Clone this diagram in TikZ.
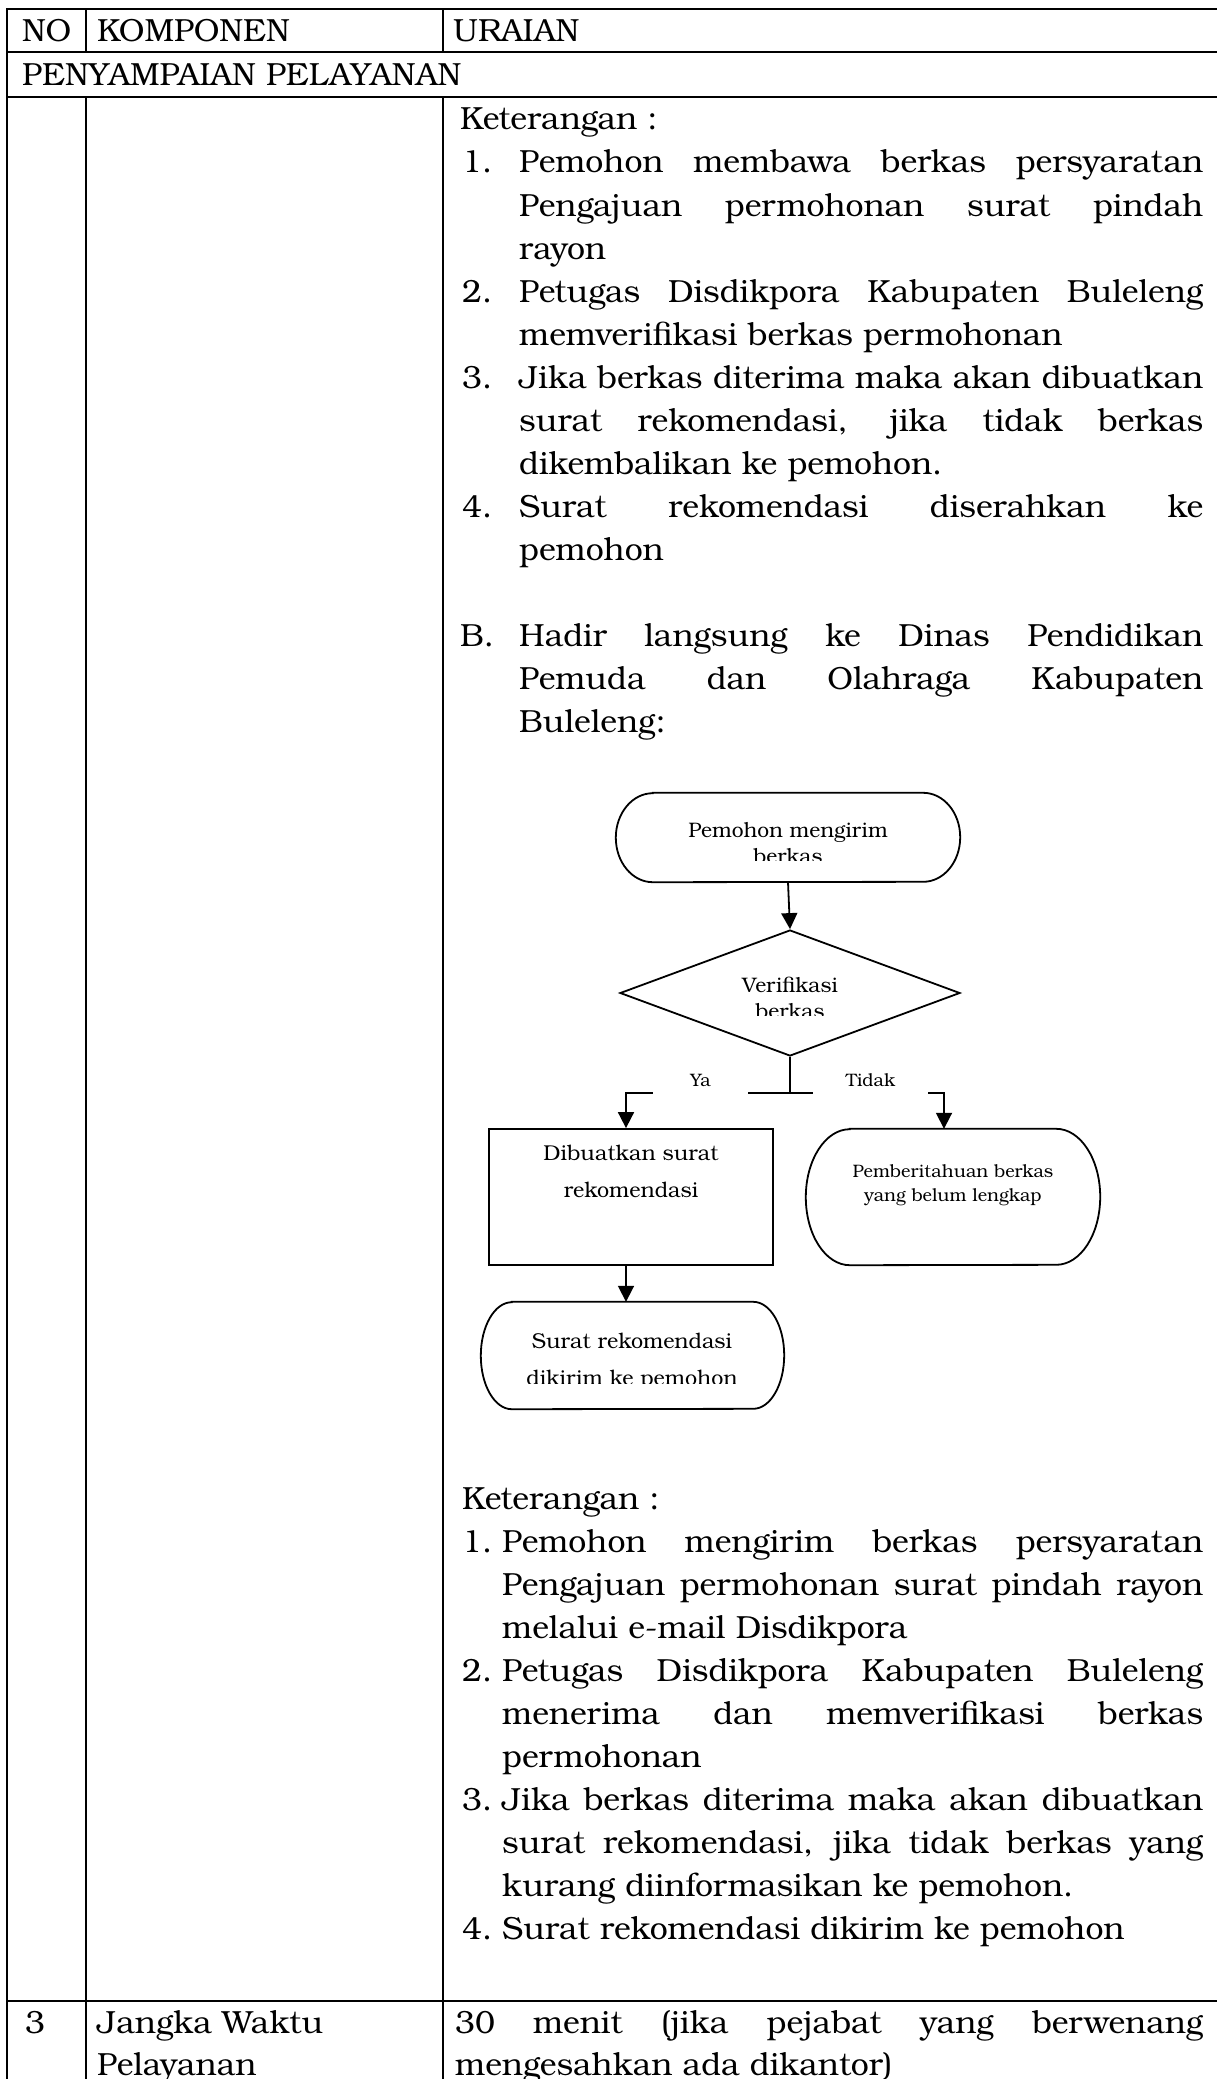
\documentclass[tikz,border=0pt]{standalone}
\usepackage{fontspec}
\setmainfont{TeX Gyre Bonum}
\usetikzlibrary{positioning,arrows.meta,shapes.geometric}

\tikzset{
   grid/.style={line width=2.5pt},
   fc/.style={line width=1.8pt},
   arr/.style={fc, -{Triangle[length=16pt,width=16pt]}},
   txt/.style={anchor=base west, inner sep=0pt, font=\fontsize{32}{43}\selectfont},
   fct/.style={anchor=base, inner sep=0pt},
   lbl/.style={anchor=base, fill=white, inner xsep=0pt, inner ysep=9pt, font=\fontsize{18}{18}\selectfont}
}

\newcommand{\capsule}[3]{%
   \path[draw, fc] ([xshift=#2pt]#1.north west) -- ([xshift=-#2pt]#1.north east)
      arc[start angle=90, end angle=-90, x radius=#2pt, y radius=#3pt]
      -- ([xshift=#2pt]#1.south west)
      arc[start angle=270, end angle=90, x radius=#2pt, y radius=#3pt] -- cycle;}

\begin{document}
\begin{tikzpicture}[x=1pt, y=-1pt]
   \useasboundingbox (0,0) rectangle (1217,2079);
   \begin{scope}
      \path[draw, grid] (1217,9) -- (7,9) -- (7,2079);
      \foreach \y in {52, 97, 2001} {
         \path[draw, grid] (7,\y) -- (1217,\y);
      }
      \foreach \x in {86, 443} {
         \path[draw, grid] (\x,9) -- (\x,52);
         \path[draw, grid] (\x,97) -- (\x,2079);
      }
      \def \Labels {
         22/42/NO,
         97/42/KOMPONEN,
         453/42/URAIAN,
         22/86/PENYAMPAIAN PELAYANAN,
         460/130/Keterangan :,
         462/173/1.,
         462/302/2.,
         462/388/3.,
         462/517/4.,
         460/646/B.,
         462/1509/Keterangan :,
         462/1552/1.,
         462/1681/2.,
         462/1810/3.,
         462/1939/4.,
         25/2033/3,
         97/2033/Jangka Waktu,
         97/2075/Pelayanan}
      \def \Lines {
         519/173/684/s/Pemohon membawa berkas persyaratan,
         519/216/684/s/Pengajuan permohonan surat pindah,
         519/259/684/l/rayon,
         519/302/684/s/Petugas Disdikpora Kabupaten Buleleng,
         519/345/684/l/memverifikasi berkas permohonan,
         519/388/684/s/Jika berkas diterima maka akan dibuatkan,
         519/431/684/s/{surat rekomendasi, jika tidak berkas},
         519/474/684/l/dikembalikan ke pemohon.,
         519/517/684/s/Surat rekomendasi diserahkan ke,
         519/560/684/l/pemohon,
         519/646/684/s/Hadir langsung ke Dinas Pendidikan,
         519/689/684/s/Pemuda dan Olahraga Kabupaten,
         519/732/684/l/Buleleng:,
         502/1552/701/s/Pemohon mengirim berkas persyaratan,
         502/1595/701/s/Pengajuan permohonan surat pindah rayon,
         502/1638/701/l/melalui e-mail Disdikpora,
         502/1681/701/s/Petugas Disdikpora Kabupaten Buleleng,
         502/1724/701/s/menerima dan memverifikasi berkas,
         502/1767/701/l/permohonan,
         502/1810/701/s/Jika berkas diterima maka akan dibuatkan,
         502/1853/701/s/{surat rekomendasi, jika tidak berkas yang},
         502/1896/701/l/kurang diinformasikan ke pemohon.,
         502/1939/701/l/Surat rekomendasi dikirim ke pemohon,
         455/2033/748/s/30 menit (jika pejabat yang berwenang,
         455/2075/748/l/mengesahkan ada dikantor)}
      \foreach \x / \y / \t [count=\i] in \Labels {
         \node[txt] (lab\i) at (\x,\y) {\t};
      }
      \foreach \x / \y / \w / \m / \t [count=\i] in \Lines {
         \node[txt] (line\i) at (\x,\y) {\makebox[\w pt][\m]{\t}};
      }
   \end{scope}
   \begin{scope}
      \node[minimum width=344pt, minimum height=89pt] (send) at (788,837.5) {};
      \node[draw, fc, diamond, inner sep=0pt, minimum width=340pt, minimum height=126pt] (ver) at (790,993) {};
      \node[draw, fc, minimum width=284pt, minimum height=136pt] (dib) at (631,1197) {};
      \node[minimum width=294pt, minimum height=136pt] (info) at (953,1197) {};
      \node[minimum width=303pt, minimum height=107pt] (kirim) at (632.5,1355.5) {};
      \capsule{send}{37}{44.5}
      \capsule{info}{44}{68}
      \capsule{kirim}{31}{53.5}
      \def \FlowText {
         788/837/21/Pemohon mengirim,
         790/992/21/Verifikasi,
         631/1160/21.5/Dibuatkan surat,
         631/1197/21.5/rekomendasi,
         953/1177/18/Pemberitahuan berkas,
         953/1201/18/yang belum lengkap,
         632/1348/21.5/Surat rekomendasi}
      \foreach \x / \y / \s / \t [count=\i] in \FlowText {
         \node[fct, font=\fontsize{\s}{\s}\selectfont] (ft\i) at (\x,\y) {\t};
      }
      \begin{scope}
         \clip (600,800) rectangle (980,860);
         \node[fct, font=\fontsize{21}{21}\selectfont] (sendb) at (788,863) {berkas};
      \end{scope}
      \begin{scope}
         \clip (650,940) rectangle (930,1015);
         \node[fct, font=\fontsize{21}{21}\selectfont] (verb) at (790,1018) {berkas};
      \end{scope}
      \begin{scope}
         \clip (490,1310) rectangle (780,1383);
         \node[fct, font=\fontsize{21.5}{21.5}\selectfont] (kirimb) at (632,1385) {dikirim ke pemohon};
      \end{scope}
      \coordinate[below=36pt of ver.south] (split);
      \path[draw, arr] (send.south) -- (ver.north);
      \path[draw, fc] (ver.south) -- (split);
      \path[draw, arr] (split) -| ([xshift=-5pt]dib.north);
      \path[draw, arr] (split) -| ([xshift=-9pt]info.north);
      \path[draw, arr] ([xshift=-5pt]dib.south) -- ([xshift=-5pt]dib.south |- kirim.north);
      \node[lbl, minimum width=95pt] (ya) at (700.5,1086) {Ya};
      \node[lbl, minimum width=115pt] (tidak) at (870.5,1086) {Tidak};
   \end{scope}
\end{tikzpicture}
\end{document}
